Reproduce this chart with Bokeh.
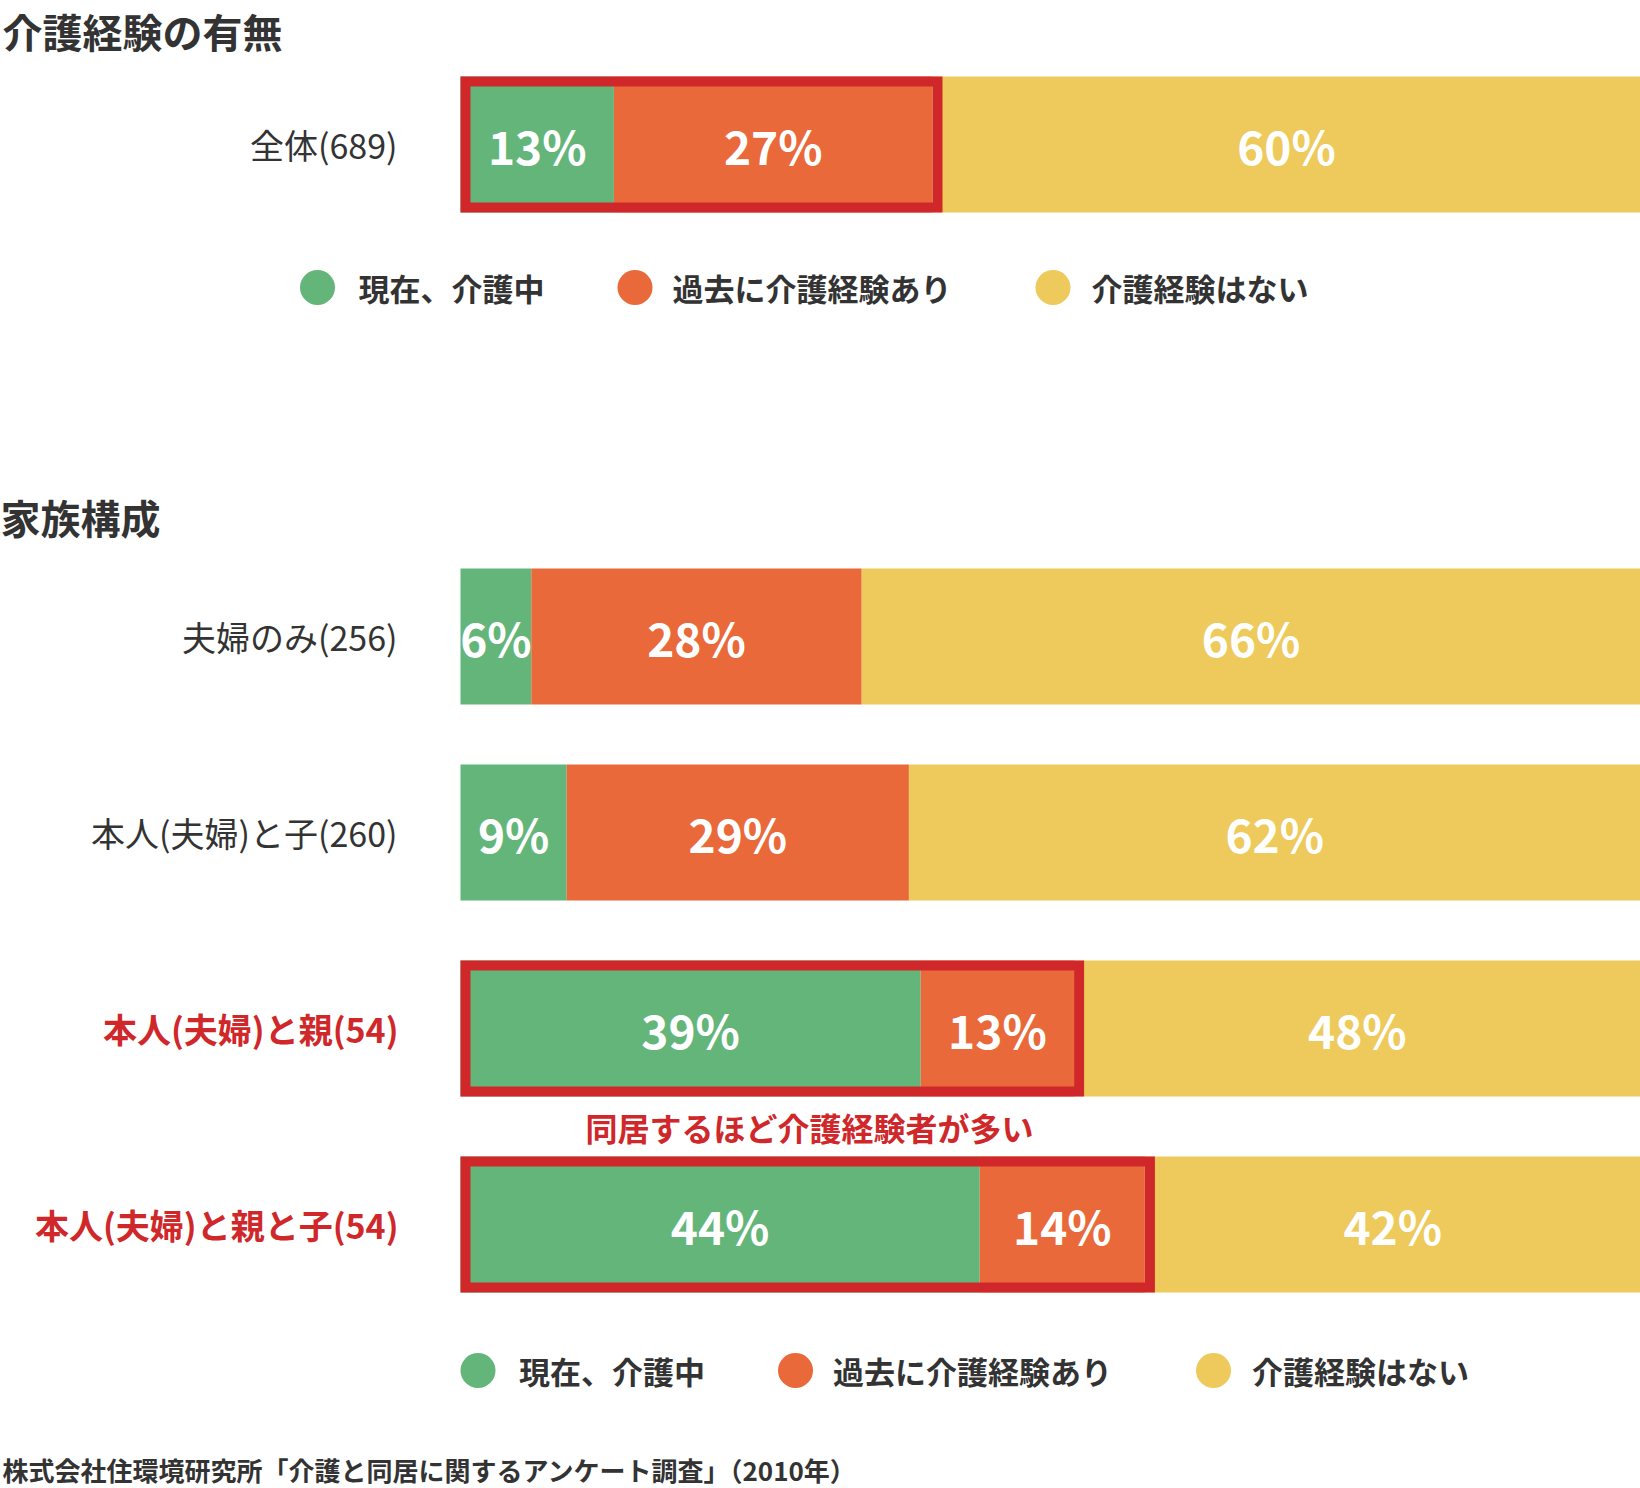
from bokeh.plotting import figure
from bokeh.models import ColumnDataSource, Range1d
from bokeh.core.properties import value
from bokeh.embed import file_html
from bokeh.resources import INLINE

# ---------------- data ----------------
section1_title = "介護経験の有無"
section2_title = "家族構成"

overall_labels = ["全体(689)"]
overall_current = [13]
overall_past = [27]
overall_none = [60]

family_labels = ["夫婦のみ(256)", "本人(夫婦)と子(260)", "本人(夫婦)と親(54)", "本人(夫婦)と親と子(54)"]
family_current = [6, 9, 39, 44]
family_past = [28, 29, 13, 14]
family_none = [66, 62, 48, 42]

series_names = ["現在、介護中", "過去に介護経験あり", "介護経験はない"]
annotation_text = "同居するほど介護経験者が多い"
source_note = "株式会社住環境研究所「介護と同居に関するアンケート調査」（2010年）"

# ---------------- styles / layout ----------------
GREEN = "#64B57A"
ORANGE = "#E9693B"
YELLOW = "#EDCA5B"
RED = "#D0282A"
DARK = "#333333"
FONT = "Noto Sans CJK JP"

REF_W, REF_H = 1640, 1488
BAR_X0 = 460.0
PX_PER_PCT = (REF_W - BAR_X0) / 100.0


def px(x):
    return (x - BAR_X0) / PX_PER_PCT


BAR_H = 136
row_y = [144, 636, 832, 1028, 1224]
row_highlight_border = [True, False, False, True, True]
row_label_red = [False, False, False, True, True]

labels = overall_labels + family_labels
current = overall_current + family_current
past = overall_past + family_past
none = overall_none + family_none

p = figure(width=1640, height=1488, output_backend="svg", toolbar_location=None,
           x_range=Range1d(px(0), px(REF_W)), y_range=Range1d(REF_H, 0),
           min_border=0, outline_line_color=None)
p.axis.visible = False
p.grid.visible = False
p.background_fill_color = "white"
p.border_fill_color = "white"

# segments
seg_left = []
seg_right = []
seg_y = []
seg_color = []
seg_text = []
for i in range(len(labels)):
    a = current[i]
    b = current[i] + past[i]
    c = current[i] + past[i] + none[i]
    for l, r, col, v in ((0, a, GREEN, current[i]), (a, b, ORANGE, past[i]), (b, c, YELLOW, none[i])):
        seg_left.append(l)
        seg_right.append(r)
        seg_y.append(row_y[i])
        seg_color.append(col)
        seg_text.append(f"{v}%")

seg_src = ColumnDataSource(dict(left=seg_left, right=seg_right, y=seg_y, color=seg_color,
                                mid=[(l + r) / 2 for l, r in zip(seg_left, seg_right)],
                                text=seg_text))
p.hbar(y="y", left="left", right="right", height=BAR_H, fill_color="color",
       line_color=None, source=seg_src)

# highlight borders
half = 5 / PX_PER_PCT
bl, br, bt, bb = [], [], [], []
for i in range(len(labels)):
    if row_highlight_border[i]:
        bl.append(0 + half)
        br.append(current[i] + past[i] + half)
        bt.append(row_y[i] - BAR_H / 2 + 5)
        bb.append(row_y[i] + BAR_H / 2 - 5)
p.quad(left=bl, right=br, top=bt, bottom=bb, fill_alpha=0, line_color=RED, line_width=10,
       line_join="miter")

# percent labels
p.text(x="mid", y="y", text="text", source=seg_src, text_color="white",
       text_font=value(FONT), text_font_style="bold", text_font_size="46px",
       text_align="center", text_baseline="middle")

# row labels
lab_gray = [l for l, r in zip(labels, row_label_red) if not r]
lab_gray_y = [y for y, r in zip(row_y, row_label_red) if not r]
lab_red = [l for l, r in zip(labels, row_label_red) if r]
lab_red_y = [y for y, r in zip(row_y, row_label_red) if r]
p.text(x=[px(397)] * len(lab_gray), y=lab_gray_y, text=lab_gray, text_color=DARK,
       text_font=value(FONT), text_font_size="34px", text_align="right",
       text_baseline="middle")
p.text(x=[px(398)] * len(lab_red), y=lab_red_y, text=lab_red, text_color=RED,
       text_font=value(FONT), text_font_style="bold", text_font_size="34px",
       text_align="right", text_baseline="middle")

# section titles
p.text(x=[px(2), px(0)], y=[30, 516], text=[section1_title, section2_title], text_color=DARK,
       text_font=value(FONT), text_font_style="bold", text_font_size="40px",
       text_align="left", text_baseline="middle")

# legends
legend_colors = [GREEN, ORANGE, YELLOW]
dot_x_ref = [317, 634.5, 1052.5]
txt_x_ref = [358, 672, 1091]
for y0, dx in ((287, 0), (1370, 160.5)):
    p.scatter(x=[px(v + dx) for v in dot_x_ref], y=[y0] * 3, size=35, marker="circle",
              fill_color=legend_colors, line_color=None)
    p.text(x=[px(v + dx) for v in txt_x_ref], y=[y0] * 3, text=series_names,
           text_color=DARK, text_font=value(FONT), text_font_style="bold",
           text_font_size="31px", text_align="left", text_baseline="middle")

# annotation
p.text(x=[px(809)], y=[1126], text=[annotation_text], text_color=RED,
       text_font=value(FONT), text_font_style="bold", text_font_size="32px",
       text_align="center", text_baseline="middle")

# source
p.text(x=[px(2)], y=[1469], text=[source_note], text_color=DARK,
       text_font=value(FONT), text_font_style="bold", text_font_size="26px",
       text_align="left", text_baseline="middle")

open("out.html", "w").write(file_html(p, INLINE))
